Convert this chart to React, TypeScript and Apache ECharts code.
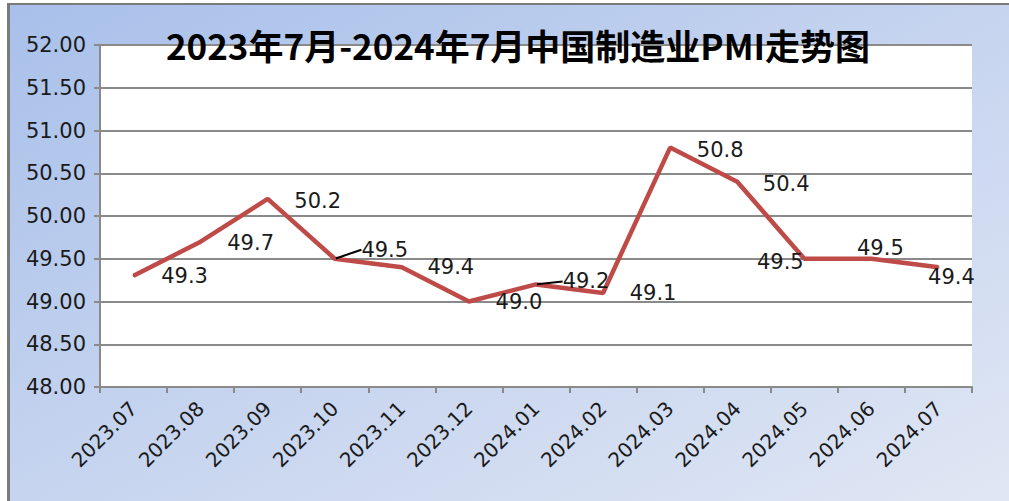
import React, { useEffect, useRef } from "react";
import * as echarts from "echarts";

const chartTitle = "2023年7月-2024年7月中国制造业PMI走势图";
const categories = [
  "2023.07", "2023.08", "2023.09", "2023.10", "2023.11", "2023.12",
  "2024.01", "2024.02", "2024.03", "2024.04", "2024.05", "2024.06", "2024.07",
];
const pmiValues = [49.3, 49.7, 50.2, 49.5, 49.4, 49.0, 49.2, 49.1, 50.8, 50.4, 49.5, 49.5, 49.4];
const yMin = 48;
const yMax = 52;
const yInterval = 0.5;

// label placement (styling only)
const labelOffsets: number[][] = [
  [51, 0], [50, 1], [50, 2], [50, -9], [49, 0], [50, 0], [50, -3],
  [50, 0], [50, 2], [49, 2], [-24, 3], [9, -11], [13, 10],
];
const leaderIndices = [3, 6];

export default function App() {
  const ref = useRef<HTMLDivElement>(null);
  useEffect(() => {
    if (!ref.current) return;
    const chart = echarts.init(ref.current, undefined, { renderer: "svg" });
    const lineColor = "#be4b48";
    const gridColor = "#8a8a8a";
    chart.setOption({
      animation: false,
      backgroundColor: "transparent",
      title: {
        text: chartTitle,
        left: 513,
        top: 22,
        textAlign: "center",
        textStyle: {
          fontFamily: "'Noto Sans CJK SC', sans-serif",
          fontWeight: "bold",
          fontSize: 35,
          color: "#000",
        },
      },
      grid: {
        left: 100,
        right: 37,
        top: 45,
        bottom: 114,
        show: true,
        backgroundColor: "#ffffff",
        borderWidth: 0,
      },
      xAxis: {
        type: "category",
        data: categories,
        boundaryGap: true,
        axisLine: { show: true, lineStyle: { color: gridColor, width: 2 } },
        axisTick: { show: true, length: 6, lineStyle: { color: gridColor, width: 2 } },
        axisLabel: {
          rotate: 45,
          margin: 18,
          fontSize: 20,
          fontFamily: "'DejaVu Sans', sans-serif",
          color: "#1a1a1a",
          interval: 0,
        },
        splitLine: { show: false },
      },
      yAxis: {
        type: "value",
        min: yMin,
        max: yMax,
        interval: yInterval,
        axisLine: { show: true, lineStyle: { color: gridColor, width: 2 } },
        axisTick: { show: true, length: 6, lineStyle: { color: gridColor, width: 2 } },
        axisLabel: {
          margin: 14,
          fontSize: 21,
          fontFamily: "'DejaVu Sans', sans-serif",
          color: "#1a1a1a",
          formatter: (v: number) => v.toFixed(2),
        },
        splitLine: { show: true, lineStyle: { color: gridColor, width: 2 } },
      },
      series: [
        {
          type: "line",
          data: pmiValues.map((v, i) => ({
            value: v,
            label: { offset: labelOffsets[i] },
            labelLine: { show: leaderIndices.includes(i) },
          })),
          symbol: "circle",
          symbolSize: 2,
          showSymbol: true,
          itemStyle: { color: lineColor },
          lineStyle: { color: lineColor, width: 4.5 },
          label: {
            show: true,
            position: "inside",
            align: "center",
            verticalAlign: "middle",
            fontSize: 21,
            fontFamily: "'DejaVu Sans', sans-serif",
            color: "#1a1a1a",
            formatter: (p: any) => Number(p.value).toFixed(1),
          },
          labelLine: { lineStyle: { color: "#000", width: 2 } },
          z: 3,
        },
      ],
    });
    return () => chart.dispose();
  }, []);

  return (
    <div style={{ position: "absolute", left: 0, top: 0, width: 1009, height: 501, background: "#ffffff", overflow: "hidden" }}>
      <div
        style={{
          position: "absolute",
          left: 7,
          top: 3,
          width: 1002,
          height: 498,
          boxSizing: "border-box",
          borderTop: "2px solid #7a7a7a",
          borderLeft: "3px solid #7a7a7a",
          background: "linear-gradient(to bottom right, #a8c0ea 0%, #c6d4ef 50%, #e0e7f4 100%)",
        }}
      />
      <div ref={ref} style={{ position: "absolute", left: 0, top: 0, width: 1009, height: 501 }} />
    </div>
  );
}
